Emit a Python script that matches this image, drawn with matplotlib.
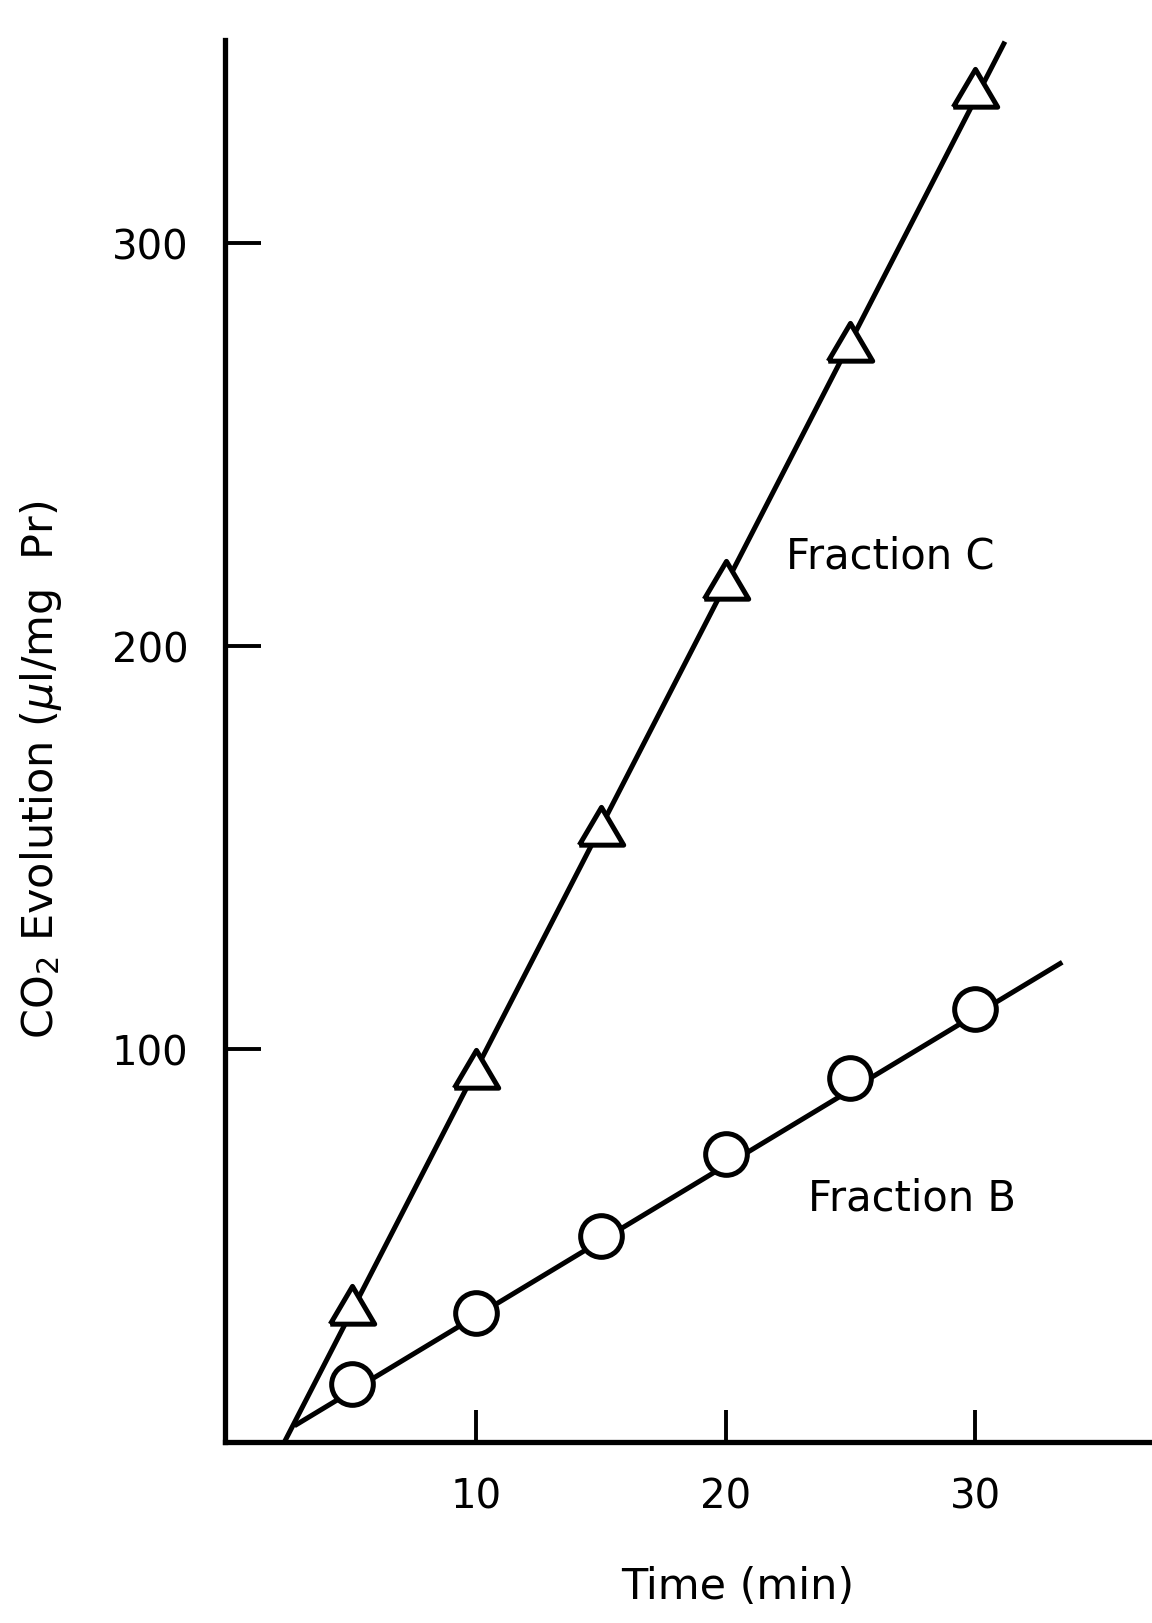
import numpy as np
import matplotlib
matplotlib.use("Agg")
import matplotlib.pyplot as plt

# Data
time_min = [5, 10, 15, 20, 25, 30]
fraction_c = [36, 94.6, 155, 216, 275, 338]
fraction_b = [17, 34.7, 53.6, 74, 92.8, 110]

# fitted straight lines (end points)
fit_c_x = [2.3, 31.2]
fit_c_y = [2.6, 350]
fit_b_x = [2.7, 33.5]
fit_b_y = [6.6, 121.6]

x_ticks = [10, 20, 30]
y_ticks = [100, 200, 300]

plt.rcParams['font.family'] = ['DejaVu Sans']

fig = plt.figure(figsize=(11.52, 16.24), dpi=100)
ax = fig.add_axes([0.195, 0.1115, 0.805, 0.8635])

lw = 3.6
ax.plot(fit_c_x, fit_c_y, color='black', lw=lw, solid_capstyle='butt', zorder=2)
ax.plot(fit_b_x, fit_b_y, color='black', lw=lw, solid_capstyle='butt', zorder=2)

tri = [(-1, -0.75), (1, -0.75), (0, 0.95), (-1, -0.75)]
ax.plot(time_min, fraction_c, linestyle='none', marker=tri, markersize=32,
        markerfacecolor='white', markeredgecolor='black', markeredgewidth=3.6, zorder=3)
ax.plot(time_min, fraction_b, linestyle='none', marker='o', markersize=30,
        markerfacecolor='white', markeredgecolor='black', markeredgewidth=3.6, zorder=3)

ax.set_xlim(-0.1, 37.1)
ax.set_ylim(2.6, 350.5)

for s in ['top', 'right']:
    ax.spines[s].set_visible(False)
for s in ['left', 'bottom']:
    ax.spines[s].set_linewidth(3.8)

ax.set_xticks(x_ticks)
ax.set_yticks(y_ticks)
ax.tick_params(axis='x', direction='in', length=23, width=2.8, pad=25, labelsize=29)
ax.tick_params(axis='y', direction='in', length=26, width=2.8, pad=26, labelsize=29)

ax.text(22.4, 222.5, 'Fraction C', fontsize=30, ha='left', va='center')
ax.text(23.3, 63.2, 'Fraction B', fontsize=30, ha='left', va='center')

fig.text(0.640, 0.023, 'Time (min)', fontsize=31, ha='center', va='center')
fig.text(0.036, 0.526, r'CO$_2$ Evolution ($\mu$l/mg  Pr)', fontsize=31,
         ha='center', va='center', rotation=90)

fig.savefig('out.png', dpi=100, facecolor='white')
